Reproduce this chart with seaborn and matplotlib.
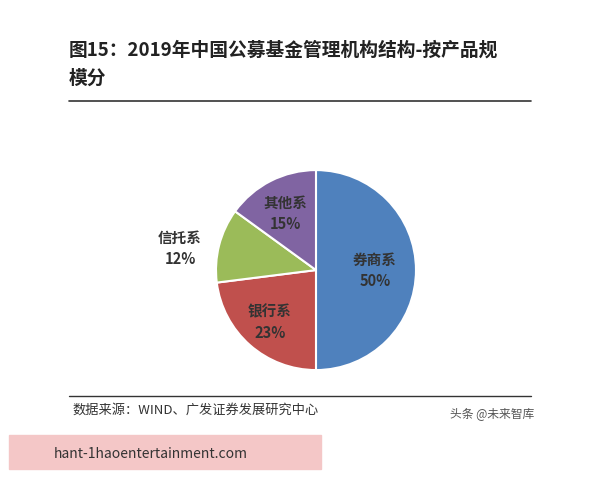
import matplotlib
matplotlib.use("Agg")
import matplotlib.pyplot as plt
import seaborn as sns

sns.set_theme(style="white")
plt.rcParams['font.family'] = ['Noto Sans CJK SC', 'DejaVu Sans']

categories = ["券商系", "银行系", "信托系", "其他系"]
values = [50, 23, 12, 15]
colors = ["#4F81BD", "#C0504D", "#9BBB59", "#8064A2"]

fig = plt.figure(figsize=(6, 4.8), dpi=100)
fig.text(0.115, 0.885, "图15：2019年中国公募基金管理机构结构-按产品规", fontsize=13.5, fontweight="bold", color="#222222")
fig.text(0.115, 0.825, "模分", fontsize=13.5, fontweight="bold", color="#222222")
fig.add_artist(plt.Line2D([0.115, 0.885], [0.79, 0.79], color="#333333", lw=1.2))
fig.add_artist(plt.Line2D([0.115, 0.885], [0.175, 0.175], color="#333333", lw=1.0))
fig.text(0.12, 0.138, "数据来源：WIND、广发证券发展研究中心", fontsize=9.5, color="#333333")
fig.text(0.75, 0.13, "头条 @未来智库", fontsize=8.5, color="#555555")
fig.add_artist(plt.Rectangle((0.015, 0.022), 0.52, 0.072, color="#F4C7C7", transform=fig.transFigure))
fig.text(0.09, 0.045, "hant-1haoentertainment.com", fontsize=10, color="#333333")

ax = fig.add_axes([0.36, 0.229, 0.3333, 0.4167])
wedges, _ = ax.pie(values, colors=colors, startangle=90, counterclock=False,
                   wedgeprops=dict(edgecolor="white", linewidth=1.5))
ax.set_xlim(-1, 1)
ax.set_ylim(-1, 1)
ax.set_aspect("equal")
pos = [(0.59, 0.0), (-0.46, -0.52), (-1.36, 0.22), (-0.31, 0.57)]
for c, v, (x, y) in zip(categories, values, pos):
    ax.text(x, y, f"{c}\n{v}%", ha="center", va="center", fontsize=10.5,
            fontweight="bold", color="#333333", linespacing=1.4, clip_on=False)
fig.savefig("out.png", dpi=100)
